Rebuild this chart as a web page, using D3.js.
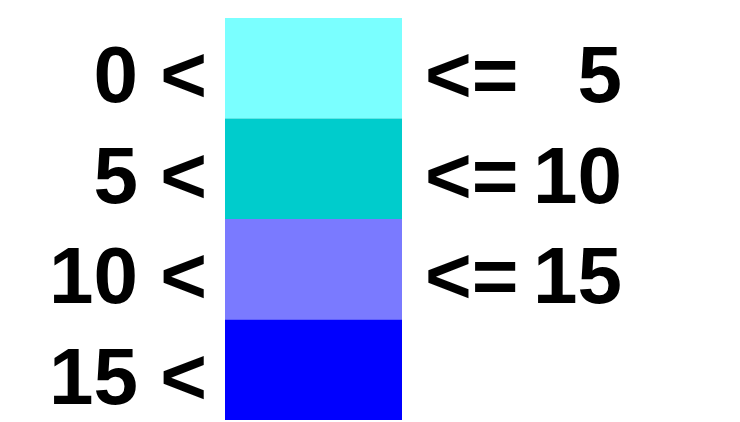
<!DOCTYPE html>
<html>
<head>
<meta charset="utf-8">
<script src="https://cdn.jsdelivr.net/npm/d3@7"></script>
<style>
  body { margin: 0; background: #fff; }
</style>
</head>
<body>
<div id="legend"></div>
<script>
// class limits of the legend
var lowerBounds = [0, 5, 10, 15];
var upperBounds = [5, 10, 15, null];
var classColors = ["#7affff", "#00cccc", "#7a7aff", "#0000ff"];

var width = 740, height = 422;

var svg = d3.select("#legend")
  .append("svg")
  .attr("width", width)
  .attr("height", height);

var y = d3.scaleBand()
  .domain(d3.range(lowerBounds.length))
  .range([18, 420]);

var rows = svg.selectAll("g.row")
  .data(lowerBounds)
  .enter()
    .append("g")
    .attr("class", "row");

rows.append("rect")
  .attr("x", 225)
  .attr("width", 177)
  .attr("y", function (d, i) { return y(i); })
  .attr("height", y.bandwidth())
  .attr("fill", function (d, i) { return classColors[i]; });

var font = "'Liberation Sans', Arial, sans-serif";

rows.append("text")
  .attr("x", 207)
  .attr("y", function (d, i) { return y(i) + y.bandwidth() / 2 + 34; })
  .attr("text-anchor", "end")
  .style("font-family", font)
  .style("font-weight", "bold")
  .style("font-size", "80px")
  .text(function (d) { return d + " <"; });

var upper = rows.filter(function (d, i) { return upperBounds[i] != null; });

upper.append("text")
  .attr("x", 425)
  .attr("y", function (d, i) { return y(i) + y.bandwidth() / 2 + 34; })
  .style("font-family", font)
  .style("font-weight", "bold")
  .style("font-size", "80px")
  .text("<=");

upper.append("text")
  .attr("x", 622)
  .attr("y", function (d, i) { return y(i) + y.bandwidth() / 2 + 34; })
  .attr("text-anchor", "end")
  .style("font-family", font)
  .style("font-weight", "bold")
  .style("font-size", "80px")
  .text(function (d, i) { return upperBounds[i]; });
</script>
</body>
</html>
